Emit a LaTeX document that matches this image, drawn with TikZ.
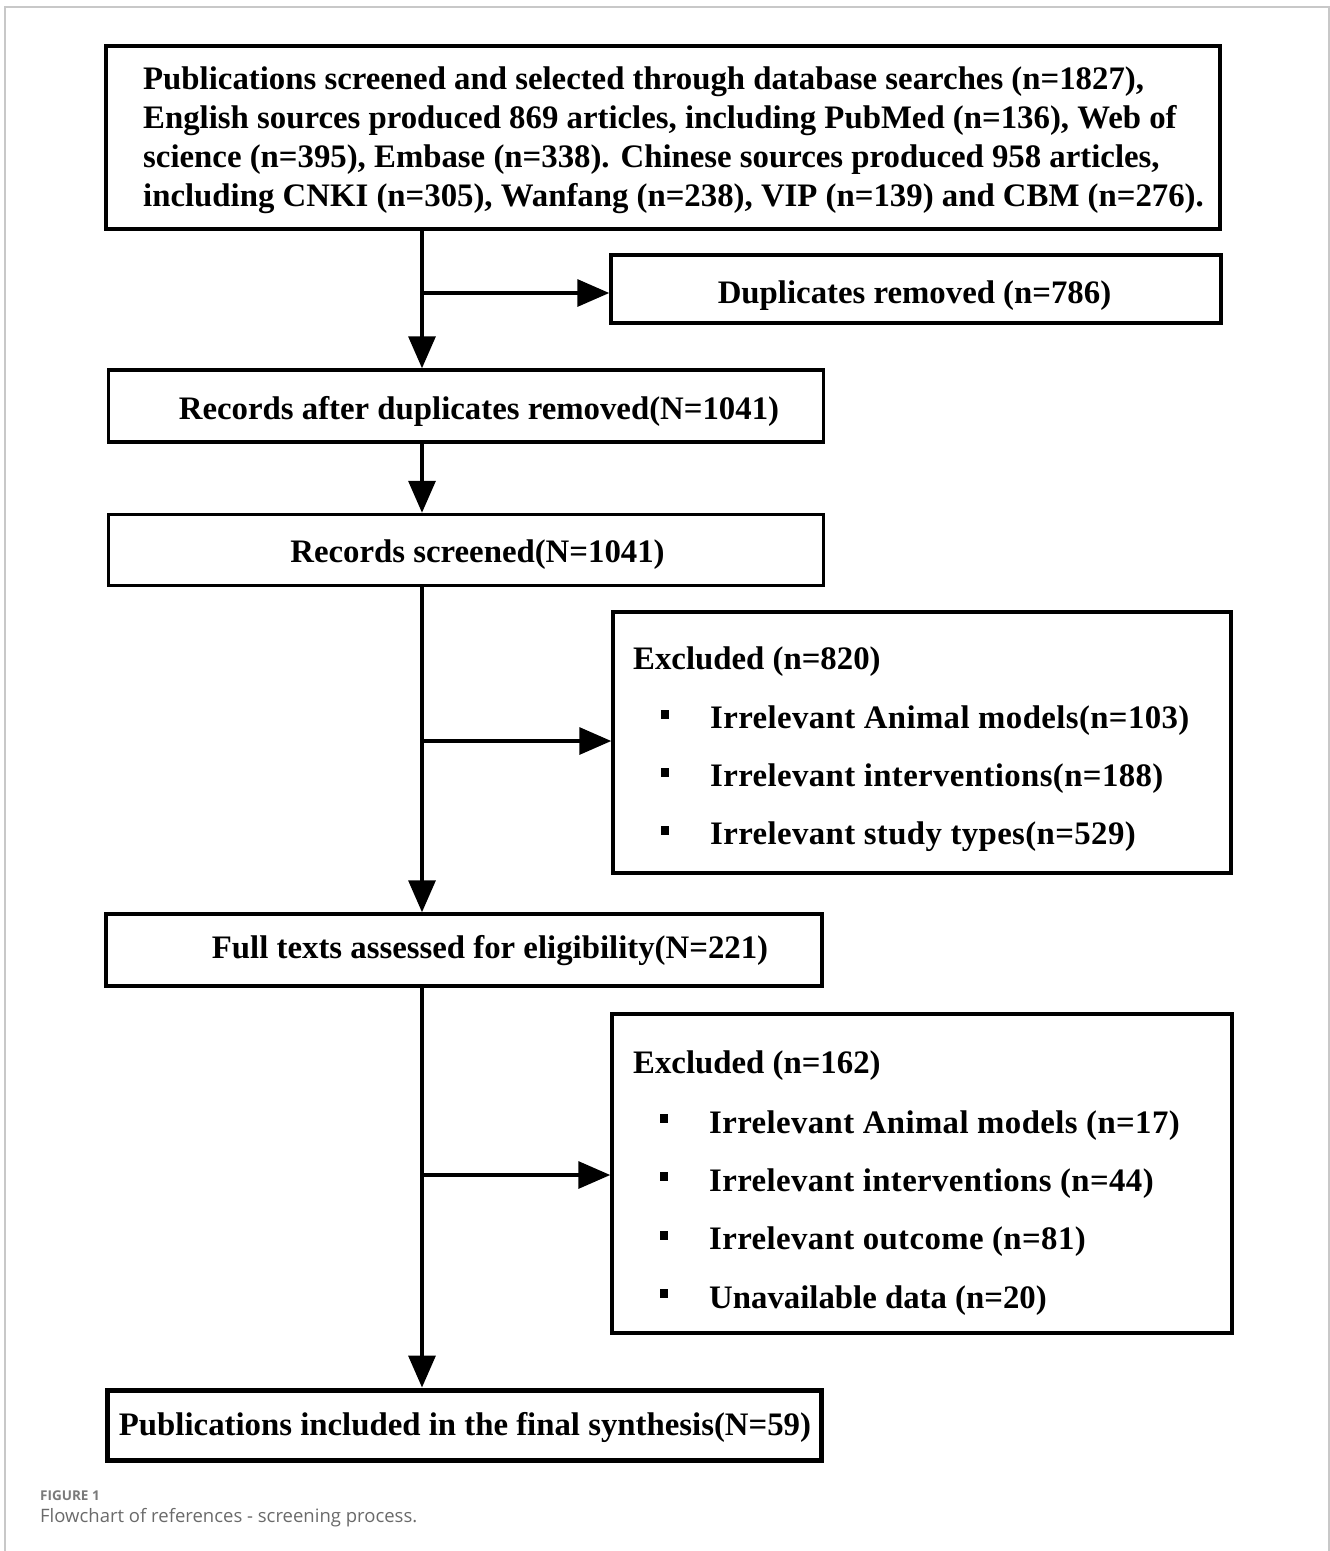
\documentclass[tikz,border=0pt]{standalone}
\usepackage{fontspec}
\setmainfont{Liberation Serif}
\newfontfamily\capfont{Open Sans}
\usetikzlibrary{arrows.meta}
\definecolor{framegray}{HTML}{C8C8C8}
\definecolor{capgray}{HTML}{6A6A6A}
\definecolor{figgray}{HTML}{7A7A7A}
\begin{document}
\begin{tikzpicture}[x=1pt,y=-1pt,
  box/.style={draw, line width=3.5pt, inner sep=0pt},
  flow/.style={line width=3.4pt, -{Triangle[length=32pt,width=27pt]}},
  lbl/.style={font=\fontsize{32.8}{39}\selectfont\bfseries, inner sep=0pt, anchor=base},
  txt/.style={lbl, anchor=base west},
  itm/.style={txt, font=\fontsize{32.8}{39}\selectfont\bfseries\addfontfeature{LetterSpace=1.2}},
  bul/.style={fill, inner sep=0pt, minimum width=8pt, minimum height=9pt}
]
\useasboundingbox (0,0) rectangle (1330,1551);
\draw[line width=1.5pt, framegray] (5,1551) -- (5,7) -- (1329,7) -- (1329,1551);

% boxes
\node[box, minimum width=1114pt, minimum height=183pt] (top) at (663,137.5) {};
\node[box, minimum width=610pt, minimum height=68pt] (dup) at (916,289) {};
\node[box, minimum width=715pt, minimum height=72pt] (rec) at (466,406) {};
\node[box, minimum width=715pt, minimum height=71pt] (scr) at (466,550) {};
\node[box, minimum width=618pt, minimum height=261pt] (ex1) at (922,742.5) {};
\node[box, minimum width=716pt, minimum height=72pt] (full) at (464,950) {};
\node[box, minimum width=620pt, minimum height=319pt] (ex2) at (922,1173.5) {};
\node[box, line width=5pt, minimum width=714pt, minimum height=70pt] (fin) at (464,1425) {};

% texts
\node[lbl, anchor=west, align=left] (toptxt) at (143,140) {Publications screened and selected through database searches (n=1827),\\
English sources produced 869 articles, including PubMed (n=136), Web of\\
science (n=395), Embase (n=338). Chinese sources produced 958 articles,\\
including CNKI (n=305), Wanfang (n=238), VIP (n=139) and CBM (n=276).};
\node[lbl] (duptxt) at (914.5,303) {Duplicates removed (n=786)};
\node[lbl] (rectxt) at (479,419) {Records after duplicates removed(N=1041)};
\node[lbl] (scrtxt) at (477.5,562) {Records screened(N=1041)};
\node[lbl] (fulltxt) at (490,958) {Full texts assessed for eligibility(N=221)};
\node[lbl] (fintxt) at (465,1435) {Publications included in the final synthesis(N=59)};

\node[txt] (e1t) at (633,669) {Excluded (n=820)};
\node[bul] (e1b1) at (665,714) {};
\node[bul] (e1b2) at (665,772) {};
\node[bul] (e1b3) at (665,830) {};
\node[itm] (e1i1) at (710,728) {Irrelevant Animal models(n=103)};
\node[itm] (e1i2) at (710,786) {Irrelevant interventions(n=188)};
\node[itm] (e1i3) at (710,844) {Irrelevant study types(n=529)};

\node[txt] (e2t) at (633,1073) {Excluded (n=162)};
\node[bul] (e2b1) at (664,1118) {};
\node[bul] (e2b2) at (664,1176) {};
\node[bul] (e2b3) at (664,1235) {};
\node[bul] (e2b4) at (664,1293) {};
\node[itm] (e2i1) at (709,1133) {Irrelevant Animal models (n=17)};
\node[itm] (e2i2) at (709,1191) {Irrelevant interventions (n=44)};
\node[itm] (e2i3) at (709,1249) {Irrelevant outcome (n=81)};
\node[txt] (e2i4) at (709,1308) {Unavailable data (n=20)};

% connectors
\coordinate (ax) at (422,0);
\coordinate (j1) at (422,293);
\coordinate (j2) at (422,741);
\coordinate (j3) at (422,1175);
\draw[flow] (top.south -| ax) -- (rec.north -| ax);
\draw[flow] (rec.south -| ax) -- (scr.north -| ax);
\draw[flow] (scr.south -| ax) -- (full.north -| ax);
\draw[flow] (full.south -| ax) -- (fin.north -| ax);
\draw[flow] (j1) -- (j1 -| dup.west);
\draw[flow] (j2) -- (j2 -| ex1.west);
\draw[flow] (j3) -- (j3 -| ex2.west);

% caption
\node[anchor=west, inner sep=0pt, font=\capfont\bfseries\fontsize{13.5}{16}\selectfont, text=figgray] (fig) at (40,1496) {FIGURE 1};
\node[anchor=west, inner sep=0pt, font=\capfont\fontsize{18.5}{22}\selectfont, text=capgray] (cap) at (40,1518) {Flowchart of references - screening process.};
\end{tikzpicture}
\end{document}
